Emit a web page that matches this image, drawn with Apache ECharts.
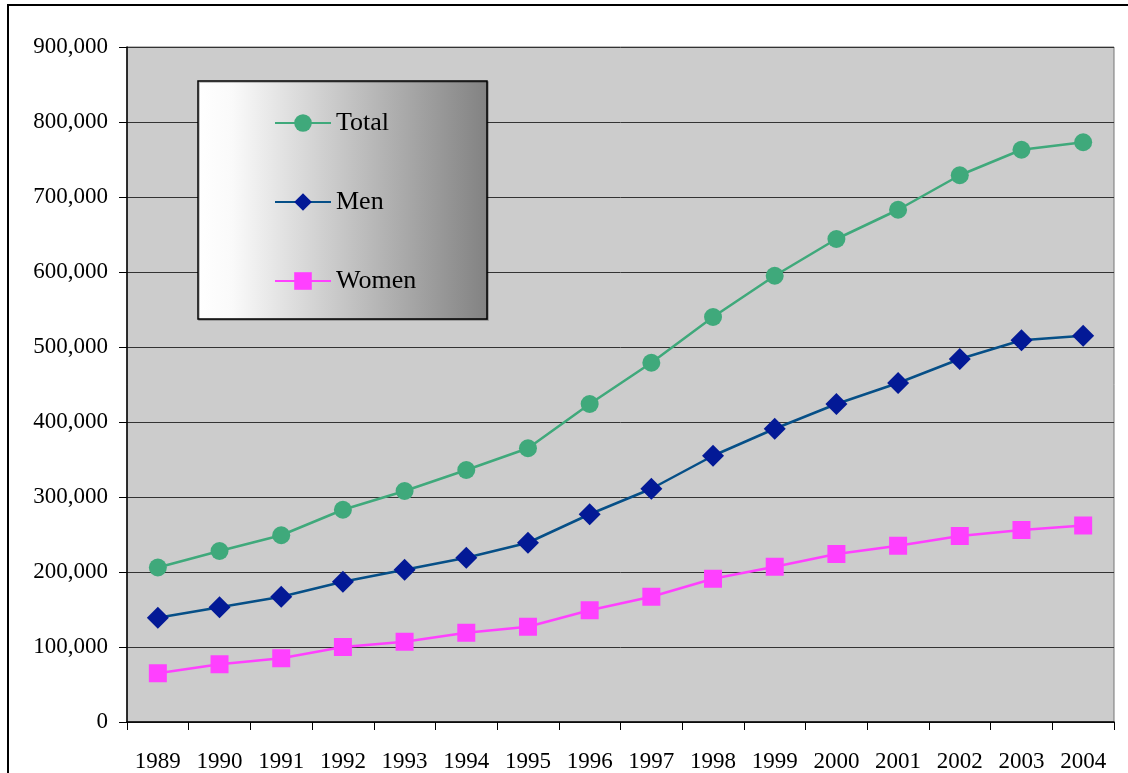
<!DOCTYPE html>
<html><head><meta charset="utf-8">
<script src="https://cdn.jsdelivr.net/npm/echarts@6/dist/echarts.min.js"></script>
<style>html,body{margin:0;padding:0;background:#fff}#c{width:1128px;height:773px}</style>
</head><body><div id="c"></div>
<script>
const years = ['1989','1990','1991','1992','1993','1994','1995','1996','1997','1998','1999','2000','2001','2002','2003','2004'];
const total = [206000,228000,249000,283000,308000,336000,365000,424000,479000,540000,595000,644000,683000,729000,763000,773000];
const men = [139000,153000,167000,187000,203000,219000,239000,277000,311000,355000,391000,424000,452000,484000,509000,515000];
const women = [65000,77000,85000,100000,107000,119000,127000,149000,167000,191000,207000,224000,235000,248000,256000,262000];
const yTicks = [0,100000,200000,300000,400000,500000,600000,700000,800000,900000];

const chart = echarts.init(document.getElementById('c'));
const font = '"Liberation Serif","Times New Roman",serif';
function fmt(v){return String(v).replace(/\B(?=(\d{3})+(?!\d))/g, ',');}
chart.setOption({
  animation:false,
  backgroundColor:'#fff',
  graphic:[
    {type:'rect', shape:{x:8,y:5,width:1140,height:800}, style:{fill:'none',stroke:'#000',lineWidth:2}, z:-1},
    {type:'rect', shape:{x:198,y:81,width:289,height:238}, style:{fill:new echarts.graphic.LinearGradient(0,0,1,0,[{offset:0,color:'#ffffff'},{offset:0.12,color:'#fafafa'},{offset:1,color:'#828282'}]),stroke:'#000',lineWidth:1.5, shadowColor:'rgba(0,0,0,0.3)', shadowOffsetX:1, shadowOffsetY:1}, z:5}
  ],
  grid:{left:127,right:14,top:47,bottom:51,show:true,backgroundColor:'#cccccc',borderColor:'#777',borderWidth:1},
  legend:{
    orient:'vertical', left:274, top:110, padding:0, itemGap:53, itemWidth:56, itemHeight:22,
    textStyle:{fontFamily:font,fontSize:26,lineHeight:26,color:'#000'}, z:10,
    data:['Total','Men','Women']
  },
  xAxis:{
    type:'category', data:years, boundaryGap:true,
    axisLine:{lineStyle:{color:'#000',width:1.5}},
    axisTick:{show:true,length:8,lineStyle:{color:'#000'}},
    axisLabel:{fontFamily:font,fontSize:23,color:'#000',margin:28}
  },
  yAxis:{
    type:'value', min:0, max:900000, interval:100000,
    axisLine:{show:true,lineStyle:{color:'#000',width:1.5}},
    axisTick:{show:true,length:8,lineStyle:{color:'#000'}},
    axisLabel:{fontFamily:font,fontSize:23,color:'#000',margin:19,formatter:v=>fmt(v)},
    splitLine:{show:true,lineStyle:{color:'#333',width:1}}
  },
  series:[
    {name:'Total',type:'line',data:total,symbol:'circle',symbolSize:18,
     lineStyle:{color:'#3fa97b',width:2.5},itemStyle:{color:'#3fa97b'}},
    {name:'Men',type:'line',data:men,symbol:'diamond',symbolSize:22,
     lineStyle:{color:'#064f87',width:2.5},itemStyle:{color:'#031996'}},
    {name:'Women',type:'line',data:women,symbol:'rect',symbolSize:18,
     lineStyle:{color:'#ff40ff',width:2.5},itemStyle:{color:'#ff40ff'}}
  ]
});
</script></body></html>
